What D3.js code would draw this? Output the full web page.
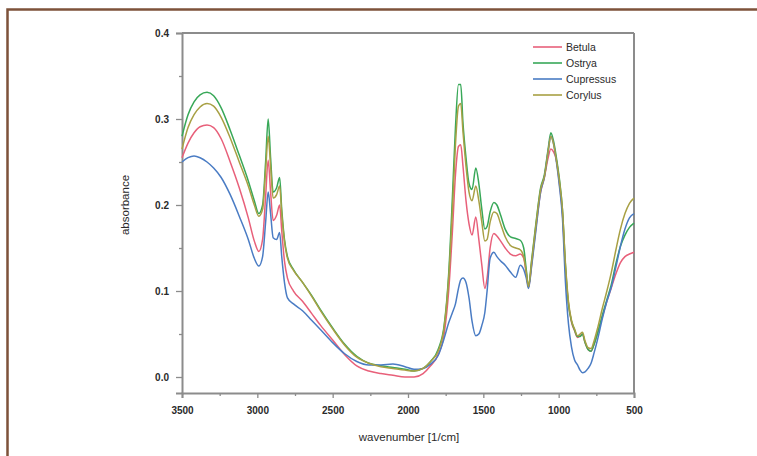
<!DOCTYPE html>
<html>
<head>
<meta charset="utf-8">
<script src="https://cdn.jsdelivr.net/npm/d3@7"></script>
<style>
  body { margin: 0; background: #fff; }
  text { font-family: "Liberation Sans", Arial, sans-serif; fill: #2a2a2a; }
  .line { fill: none; stroke-width: 1.5; stroke-linejoin: round; }
</style>
</head>
<body>
<div id="chart"></div>
<script>
// wavenumber grid (1/cm), shared by all four spectra
var wavenumbers = [3500, 3460, 3420, 3380, 3334, 3290, 3240, 3180, 3120, 3060, 3020, 2990, 2965, 2945, 2928, 2912, 2895, 2872, 2852, 2838,
  2820, 2800, 2760, 2700, 2640, 2580, 2500, 2420, 2340, 2260, 2180, 2100, 2020, 1960, 1900, 1850, 1800, 1760, 1730, 1705,
  1685, 1665, 1650, 1635, 1615, 1595, 1575, 1550, 1530, 1510, 1490, 1475, 1455, 1430, 1410, 1385, 1355, 1320, 1285, 1255,
  1232, 1215, 1200, 1180, 1150, 1120, 1095, 1070, 1052, 1035, 1015, 995, 975, 955, 935, 915, 895, 875, 858, 842,
  825, 805, 785, 765, 740, 710, 680, 650, 620, 590, 560, 530, 500];

var betula = [0.255, 0.272, 0.284, 0.291, 0.293, 0.290, 0.277, 0.250, 0.220, 0.185, 0.158, 0.146, 0.160, 0.210, 0.252, 0.215, 0.182, 0.188, 0.200, 0.170,
  0.135, 0.115, 0.100, 0.088, 0.074, 0.060, 0.043, 0.026, 0.013, 0.007, 0.004, 0.002, 0.000, 0.000, 0.004, 0.013, 0.026, 0.050, 0.100, 0.170,
  0.235, 0.268, 0.270, 0.245, 0.205, 0.178, 0.165, 0.186, 0.160, 0.130, 0.103, 0.115, 0.150, 0.167, 0.164, 0.158, 0.150, 0.143, 0.141, 0.143,
  0.138, 0.120, 0.104, 0.130, 0.175, 0.215, 0.232, 0.255, 0.265, 0.262, 0.252, 0.225, 0.190, 0.125, 0.085, 0.064, 0.054, 0.046, 0.048, 0.050,
  0.040, 0.032, 0.030, 0.038, 0.052, 0.070, 0.088, 0.104, 0.120, 0.133, 0.140, 0.143, 0.145];

var ostrya = [0.280, 0.305, 0.320, 0.328, 0.331, 0.327, 0.313, 0.287, 0.258, 0.228, 0.205, 0.190, 0.200, 0.250, 0.300, 0.255, 0.215, 0.220, 0.232, 0.195,
  0.160, 0.140, 0.125, 0.110, 0.095, 0.078, 0.057, 0.038, 0.024, 0.016, 0.013, 0.011, 0.009, 0.007, 0.010, 0.018, 0.032, 0.060, 0.120, 0.210,
  0.290, 0.340, 0.340, 0.295, 0.255, 0.225, 0.218, 0.243, 0.225, 0.195, 0.172, 0.175, 0.192, 0.203, 0.200, 0.188, 0.172, 0.163, 0.161, 0.159,
  0.150, 0.125, 0.105, 0.135, 0.180, 0.220, 0.235, 0.265, 0.284, 0.275, 0.255, 0.230, 0.195, 0.130, 0.085, 0.065, 0.055, 0.047, 0.047, 0.050,
  0.040, 0.032, 0.030, 0.038, 0.052, 0.072, 0.090, 0.108, 0.132, 0.152, 0.165, 0.174, 0.179];

var cupressus = [0.250, 0.255, 0.257, 0.255, 0.250, 0.243, 0.232, 0.212, 0.187, 0.160, 0.138, 0.129, 0.140, 0.180, 0.215, 0.190, 0.162, 0.160, 0.168, 0.140,
  0.110, 0.092, 0.085, 0.077, 0.066, 0.055, 0.040, 0.027, 0.018, 0.014, 0.014, 0.015, 0.012, 0.009, 0.010, 0.015, 0.025, 0.045, 0.063, 0.075,
  0.085, 0.103, 0.113, 0.115, 0.110, 0.092, 0.065, 0.048, 0.050, 0.060, 0.075, 0.100, 0.138, 0.145, 0.140, 0.135, 0.130, 0.122, 0.116, 0.130,
  0.125, 0.115, 0.103, 0.128, 0.172, 0.215, 0.232, 0.262, 0.280, 0.272, 0.250, 0.222, 0.185, 0.110, 0.062, 0.035, 0.020, 0.014, 0.008, 0.005,
  0.006, 0.010, 0.016, 0.028, 0.045, 0.068, 0.088, 0.105, 0.128, 0.152, 0.172, 0.185, 0.190];

var corylus = [0.265, 0.290, 0.305, 0.314, 0.318, 0.315, 0.302, 0.278, 0.250, 0.222, 0.200, 0.187, 0.195, 0.240, 0.280, 0.245, 0.208, 0.212, 0.222, 0.190,
  0.158, 0.138, 0.124, 0.110, 0.094, 0.077, 0.056, 0.037, 0.023, 0.016, 0.012, 0.010, 0.008, 0.007, 0.010, 0.018, 0.030, 0.058, 0.115, 0.195,
  0.270, 0.315, 0.318, 0.285, 0.245, 0.215, 0.205, 0.222, 0.205, 0.180, 0.158, 0.160, 0.180, 0.192, 0.190, 0.178, 0.163, 0.153, 0.150, 0.148,
  0.140, 0.122, 0.105, 0.133, 0.178, 0.218, 0.233, 0.262, 0.280, 0.272, 0.252, 0.228, 0.195, 0.132, 0.088, 0.066, 0.056, 0.048, 0.050, 0.052,
  0.042, 0.034, 0.033, 0.042, 0.058, 0.080, 0.100, 0.122, 0.148, 0.172, 0.190, 0.202, 0.208];

var seriesNames = ["Betula", "Ostrya", "Cupressus", "Corylus"];
var seriesValues = [betula, ostrya, cupressus, corylus];
var seriesColors = ["#e8607a", "#38a858", "#4a7cc4", "#a8a044"];

var xTicks = [3500, 3000, 2500, 2000, 1500, 1000, 500];
var xMinor = [3250, 2750, 2250, 1750, 1250, 750];
var yTicks = [0.0, 0.1, 0.2, 0.3, 0.4];
var yMinor = [0.05, 0.15, 0.25, 0.35];

var width = 757, height = 456;
var plot = { left: 182, right: 634, top: 33, bottom: 393 };

var svg = d3.select("#chart").append("svg")
  .attr("width", width)
  .attr("height", height);

// brown page frame (only top and left edges show)
svg.append("rect")
  .attr("x", 7.5).attr("y", 9.5)
  .attr("width", 800).attr("height", 500)
  .attr("fill", "#fff")
  .attr("stroke", "#7d523a")
  .attr("stroke-width", 2.5);

var x = d3.scaleLinear().domain([3500, 500]).range([plot.left, plot.right]);
var y = d3.scaleLinear().domain([-0.0186, 0.4]).range([plot.bottom, plot.top]);

var axisColor = "#8c8c8c";

// x axis
svg.append("g")
  .attr("transform", "translate(0," + plot.bottom + ")")
  .call(d3.axisBottom(x).tickValues(xTicks).tickSize(5).tickPadding(9).tickFormat(d3.format("d")));
svg.append("g")
  .attr("transform", "translate(0," + plot.bottom + ")")
  .call(d3.axisBottom(x).tickValues(xMinor).tickSize(3).tickFormat(""))
  .select(".domain").remove();

// y axis
svg.append("g")
  .attr("transform", "translate(" + plot.left + ",0)")
  .call(d3.axisLeft(y).tickValues(yTicks).tickSize(6).tickPadding(7).tickFormat(d3.format(".1f")));
svg.append("g")
  .attr("transform", "translate(" + plot.left + ",0)")
  .call(d3.axisLeft(y).tickValues(yMinor).tickSize(3).tickFormat(""))
  .select(".domain").remove();

svg.selectAll(".domain").attr("stroke", axisColor).attr("stroke-width", 2);
svg.selectAll(".tick line").attr("stroke", axisColor).attr("stroke-width", 1.3);
svg.selectAll(".tick text")
  .style("font-size", "10px")
  .style("font-weight", "bold")
  .attr("fill", "#333");

// top and right frame of the plot box
svg.append("line")
  .attr("x1", plot.left).attr("x2", plot.right).attr("y1", plot.top).attr("y2", plot.top)
  .attr("stroke", axisColor).attr("stroke-width", 2);
svg.append("line")
  .attr("x1", plot.right).attr("x2", plot.right).attr("y1", plot.top).attr("y2", plot.bottom)
  .attr("stroke", axisColor).attr("stroke-width", 2);

// spectra
var line = d3.line()
  .x(function(d) { return x(d[0]); })
  .y(function(d) { return y(d[1]); })
  .curve(d3.curveMonotoneX);

svg.append("g")
  .selectAll("path")
  .data(seriesValues)
  .enter()
  .append("path")
  .attr("class", "line")
  .attr("stroke", function(d, i) { return seriesColors[i]; })
  .attr("d", function(vals) {
    return line(wavenumbers.map(function(w, i) { return [w, vals[i]]; }));
  });

// legend
var legend = svg.append("g").attr("transform", "translate(533,47)");
legend.selectAll("line")
  .data(seriesNames)
  .enter()
  .append("line")
  .attr("x1", 0).attr("x2", 29)
  .attr("y1", function(d, i) { return i * 16; })
  .attr("y2", function(d, i) { return i * 16; })
  .attr("stroke", function(d, i) { return seriesColors[i]; })
  .attr("stroke-width", 1.6);
legend.selectAll("text")
  .data(seriesNames)
  .enter()
  .append("text")
  .attr("x", 33)
  .attr("y", function(d, i) { return i * 16 + 4; })
  .style("font-size", "10.5px")
  .text(function(d) { return d; });

// axis titles
svg.append("text")
  .attr("transform", "translate(129,205) rotate(-90)")
  .attr("text-anchor", "middle")
  .style("font-size", "11.5px")
  .text("absorbance");

svg.append("text")
  .attr("x", 409)
  .attr("y", 441)
  .attr("text-anchor", "middle")
  .style("font-size", "11.5px")
  .text("wavenumber [1/cm]");
</script>
</body>
</html>
